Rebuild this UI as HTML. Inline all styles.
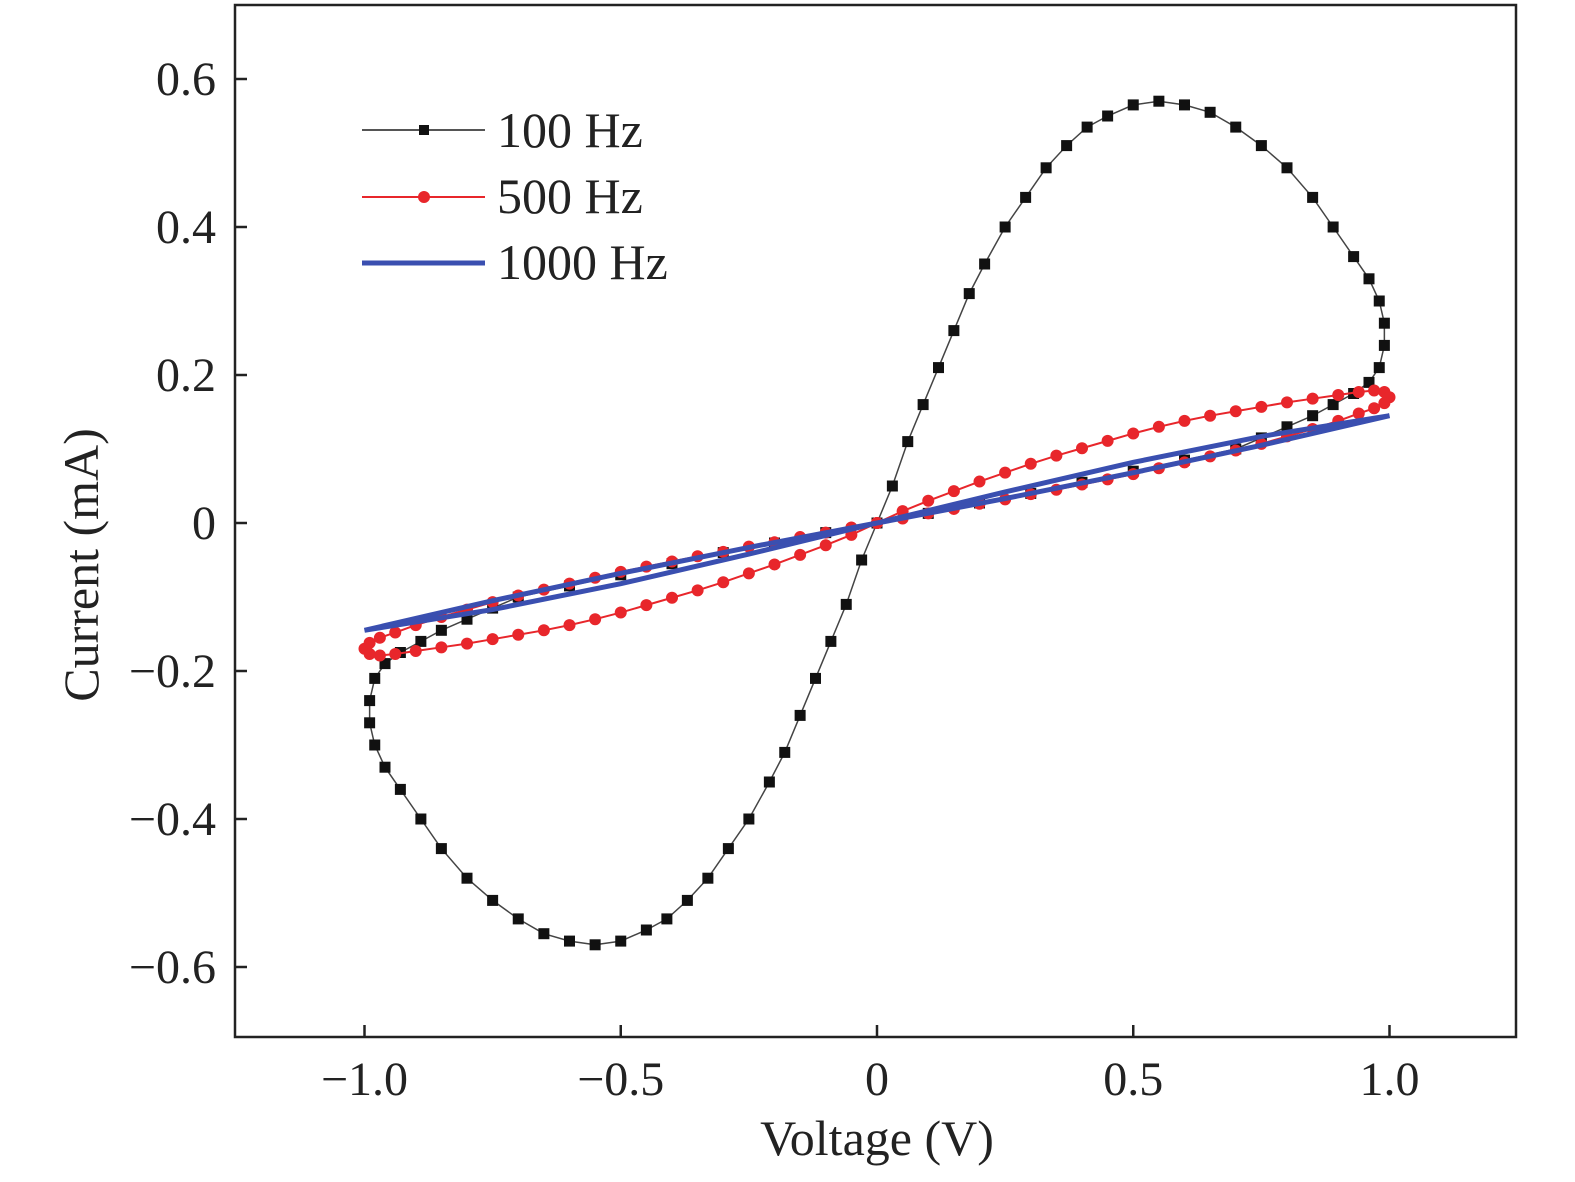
<!DOCTYPE html>
<html><head><meta charset="utf-8"><style>
body{margin:0;background:#fff}
svg text{font-family:"Liberation Serif",serif;fill:#222}
</style></head><body>
<svg id="chart" width="1575" height="1177">
<rect x="235" y="5" width="1281" height="1032" fill="none" stroke="#222" stroke-width="2.5"/>
<g id="axes"></g><g id="series"></g>
<text x="877" y="1155" font-size="50" text-anchor="middle">Voltage (V)</text>
<text transform="translate(98,565) rotate(-90)" font-size="50" text-anchor="middle">Current (mA)</text>
<g>
<line x1="362" y1="130" x2="485" y2="130" stroke="#555" stroke-width="2"/>
<rect x="419" y="125" width="10" height="10" fill="#111"/>
<text x="497" y="147" font-size="50">100 Hz</text>
<line x1="362" y1="197" x2="485" y2="197" stroke="#e8262b" stroke-width="2"/>
<circle cx="424" cy="197" r="6" fill="#e8262b"/>
<text x="497" y="213" font-size="50">500 Hz</text>
<line x1="362" y1="263" x2="485" y2="263" stroke="#3a4fb0" stroke-width="5"/>
<text x="497" y="279" font-size="50">1000 Hz</text>
</g>
</svg>
<script>
const xTicks=[-1.0,-0.5,0,0.5,1.0];
const xTickLabels=["\u22121.0","\u22120.5","0","0.5","1.0"];
const yTicks=[-0.6,-0.4,-0.2,0,0.2,0.4,0.6];
const yTickLabels=["\u22120.6","\u22120.4","\u22120.2","0","0.2","0.4","0.6"];
const v100pos=[0,0.03,0.06,0.09,0.12,0.15,0.18,0.21,0.25,0.29,0.33,0.37,0.41,0.45,0.5,0.55,0.6,0.65,0.7,0.75,0.8,0.85,0.89,0.93,0.96,0.98,0.99,0.99,0.98,0.96,0.93,0.89,0.85,0.8,0.75,0.7,0.6,0.5,0.4,0.3,0.2,0.1,0];
const i100pos=[0,0.05,0.11,0.16,0.21,0.26,0.31,0.35,0.40,0.44,0.48,0.51,0.535,0.55,0.565,0.57,0.565,0.555,0.535,0.51,0.48,0.44,0.40,0.36,0.33,0.30,0.27,0.24,0.21,0.19,0.175,0.16,0.145,0.13,0.115,0.10,0.085,0.07,0.055,0.04,0.027,0.013,0];
const v100neg=[0,-0.03,-0.06,-0.09,-0.12,-0.15,-0.18,-0.21,-0.25,-0.29,-0.33,-0.37,-0.41,-0.45,-0.5,-0.55,-0.6,-0.65,-0.7,-0.75,-0.8,-0.85,-0.89,-0.93,-0.96,-0.98,-0.99,-0.99,-0.98,-0.96,-0.93,-0.89,-0.85,-0.8,-0.75,-0.7,-0.6,-0.5,-0.4,-0.3,-0.2,-0.1,0];
const i100neg=[0,-0.05,-0.11,-0.16,-0.21,-0.26,-0.31,-0.35,-0.40,-0.44,-0.48,-0.51,-0.535,-0.55,-0.565,-0.57,-0.565,-0.555,-0.535,-0.51,-0.48,-0.44,-0.40,-0.36,-0.33,-0.30,-0.27,-0.24,-0.21,-0.19,-0.175,-0.16,-0.145,-0.13,-0.115,-0.10,-0.085,-0.07,-0.055,-0.04,-0.027,-0.013,0];
const v500pos=[0,0.05,0.1,0.15,0.2,0.25,0.3,0.35,0.4,0.45,0.5,0.55,0.6,0.65,0.7,0.75,0.8,0.85,0.9,0.94,0.97,0.99,1.0,0.99,0.97,0.94,0.9,0.85,0.8,0.75,0.7,0.65,0.6,0.55,0.5,0.45,0.4,0.35,0.3,0.25,0.2,0.15,0.1,0.05,0];
const i500pos=[0,0.016,0.03,0.043,0.056,0.068,0.08,0.091,0.101,0.111,0.121,0.13,0.138,0.145,0.151,0.157,0.163,0.168,0.173,0.177,0.179,0.177,0.17,0.162,0.155,0.148,0.138,0.127,0.117,0.107,0.098,0.09,0.082,0.074,0.066,0.059,0.052,0.045,0.039,0.032,0.026,0.019,0.013,0.006,0];
const v500neg=[0,-0.05,-0.1,-0.15,-0.2,-0.25,-0.3,-0.35,-0.4,-0.45,-0.5,-0.55,-0.6,-0.65,-0.7,-0.75,-0.8,-0.85,-0.9,-0.94,-0.97,-0.99,-1.0,-0.99,-0.97,-0.94,-0.9,-0.85,-0.8,-0.75,-0.7,-0.65,-0.6,-0.55,-0.5,-0.45,-0.4,-0.35,-0.3,-0.25,-0.2,-0.15,-0.1,-0.05,0];
const i500neg=[0,-0.016,-0.03,-0.043,-0.056,-0.068,-0.08,-0.091,-0.101,-0.111,-0.121,-0.13,-0.138,-0.145,-0.151,-0.157,-0.163,-0.168,-0.173,-0.177,-0.179,-0.177,-0.17,-0.162,-0.155,-0.148,-0.138,-0.127,-0.117,-0.107,-0.098,-0.09,-0.082,-0.074,-0.066,-0.059,-0.052,-0.045,-0.039,-0.032,-0.026,-0.019,-0.013,-0.006,0];
const v1000=[0,0.25,0.5,0.75,1.0,0.75,0.5,0.25,0,-0.25,-0.5,-0.75,-1.0,-0.75,-0.5,-0.25,0];
const i1000=[0,0.042,0.082,0.117,0.145,0.105,0.068,0.033,0,-0.042,-0.082,-0.117,-0.145,-0.105,-0.068,-0.033,0];

const X=v=>877+v*512.5, Y=i=>523-i*740;
const NS="http://www.w3.org/2000/svg";
const axes=document.getElementById('axes'), ser=document.getElementById('series');
function mk(t,a,p){const e=document.createElementNS(NS,t);for(const k in a)e.setAttribute(k,a[k]);p.appendChild(e);return e;}
xTicks.forEach((v,k)=>{
 const l=mk('line',{x1:X(v),x2:X(v),y1:1037,y2:1025,stroke:'#222','stroke-width':2.5},axes);
 
 
 const t=mk('text',{x:X(v),y:1095,'font-size':48,'text-anchor':'middle'},axes);t.textContent=xTickLabels[k];
 
 
});
yTicks.forEach((v,k)=>{
 const l=mk('line',{x1:235,x2:247,y1:Y(v),y2:Y(v),stroke:'#222','stroke-width':2.5},axes);
 
 
 const t=mk('text',{x:216,y:Y(v)+16,'font-size':48,'text-anchor':'end'},axes);t.textContent=yTickLabels[k];
 
 
});
function line(vs,is,color,w,name){
 const p=mk('polyline',{points:vs.map((v,k)=>X(v)+','+Y(is[k])).join(' '),fill:'none',stroke:color,'stroke-width':w},ser);
 
 
}
function sq(vs,is,name){vs.forEach((v,k)=>{const r=mk('rect',{x:X(v)-5.5,y:Y(is[k])-5.5,width:11,height:11,fill:'#111'},ser);
 
 });}
function ci(vs,is,name){vs.forEach((v,k)=>{const c=mk('circle',{cx:X(v),cy:Y(is[k]),r:6,fill:'#e8262b'},ser);
 
 });}
line(v100pos,i100pos,'#444',1.5,'line-100hz-pos');line(v100neg,i100neg,'#444',1.5,'line-100hz-neg');
sq(v100pos,i100pos,'point-100hz');sq(v100neg,i100neg,'point-100hz');
line(v500pos,i500pos,'#e8262b',2,'line-500hz-pos');line(v500neg,i500neg,'#e8262b',2,'line-500hz-neg');
ci(v500pos,i500pos,'point-500hz');ci(v500neg,i500neg,'point-500hz');
line(v1000,i1000,'#3a4fb0',5,'line-1000hz');
</script>
</body></html>
